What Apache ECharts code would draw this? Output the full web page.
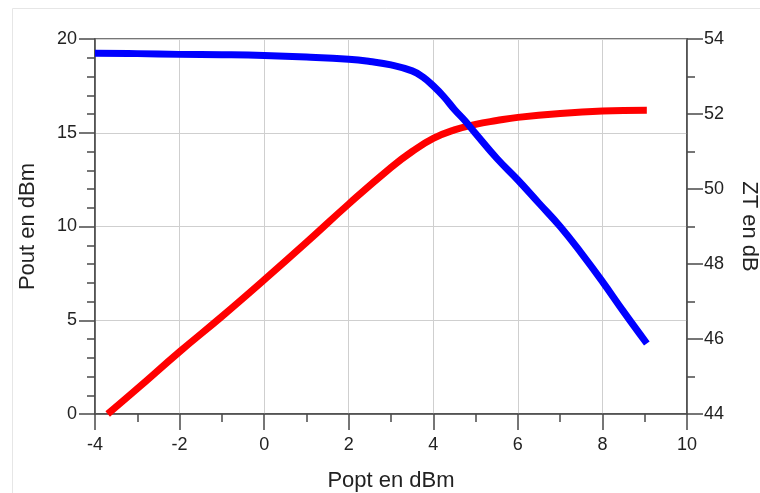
<!DOCTYPE html>
<html>
<head>
<meta charset="utf-8">
<script src="https://cdn.jsdelivr.net/npm/echarts@6/dist/echarts.min.js"></script>
<style>html,body{margin:0;padding:0;background:#fff;overflow:hidden}#c{width:760px;height:493px}</style>
</head>
<body>
<div id="c"></div>
<script>
// Tick settings
const xTicks = {min: -4, max: 10, interval: 2};
const leftTicks = {min: 0, max: 20, interval: 5};
const rightTicks = {min: 44, max: 54, interval: 2};

// Pout (left axis, red)
const poutX = [-3.7, -3, -2, -1, 0, 1, 2, 3, 3.5, 4, 4.5, 5, 5.5, 6, 7, 8, 9.05];
const poutY = [0, 1.35, 3.32, 5.2, 7.15, 9.15, 11.2, 13.15, 14.0, 14.7, 15.15, 15.45, 15.65, 15.82, 16.03, 16.16, 16.2];

// ZT (right axis, blue)
const ztX = [-4, -3, -2, -1, 0, 1, 2, 2.5, 3, 3.5, 3.75, 4, 4.25, 4.5, 4.75, 5, 5.5, 6, 6.5, 7, 7.5, 8, 8.5, 9.05];
const ztY = [53.62, 53.61, 53.59, 53.58, 53.56, 53.52, 53.46, 53.40, 53.31, 53.15, 52.99, 52.75, 52.46, 52.12, 51.82, 51.48, 50.82, 50.24, 49.62, 49.0, 48.29, 47.53, 46.73, 45.88];

const xName = 'Popt en dBm';
const leftName = 'Pout en dBm';
const rightName = 'ZT en dB';

const axisColor = '#4a4a4a';
const font = 'Liberation Sans, Arial, sans-serif';
const labelStyle = {color: '#222', fontSize: 18, fontFamily: font};
const nameStyle = {color: '#222', fontSize: 22, fontFamily: font};

const chart = echarts.init(document.getElementById('c'), null, {renderer: 'canvas', width: 760, height: 493});
chart.setOption({
  animation: false,
  backgroundColor: '#fff',
  graphic: [{
    type: 'rect', silent: true, z: -10,
    shape: {x: 12.5, y: 8.5, width: 800, height: 500},
    style: {fill: 'none', stroke: '#e6e6e6', lineWidth: 1}
  }],
  grid: {
    left: 95, right: 73, top: 39, bottom: 79,
    containLabel: false, outerBoundsMode: 'none',
    show: true, borderColor: axisColor, borderWidth: 1.5, backgroundColor: 'transparent'
  },
  xAxis: {
    type: 'value', min: xTicks.min, max: xTicks.max, interval: xTicks.interval,
    name: xName, nameLocation: 'middle', nameGap: 56, nameTextStyle: nameStyle,
    axisLine: {show: true, onZero: false, lineStyle: {color: axisColor, width: 1.5}},
    axisTick: {show: true, inside: false, length: 16, lineStyle: {color: axisColor, width: 1.5}},
    minorTick: {show: true, splitNumber: 2, length: 8, lineStyle: {color: axisColor, width: 1.5}},
    axisLabel: Object.assign({margin: 22}, labelStyle),
    splitLine: {show: true, lineStyle: {color: '#cfcfcf', width: 1}}
  },
  yAxis: [{
    type: 'value', position: 'left', min: leftTicks.min, max: leftTicks.max, interval: leftTicks.interval,
    name: leftName, nameLocation: 'middle', nameRotate: 90, nameGap: 56, nameTextStyle: nameStyle,
    axisLine: {show: true, onZero: false, lineStyle: {color: axisColor, width: 1.5}},
    axisTick: {show: true, length: 16, lineStyle: {color: axisColor, width: 1.5}},
    minorTick: {show: true, splitNumber: 5, length: 8, lineStyle: {color: axisColor, width: 1.5}},
    axisLabel: Object.assign({margin: 18}, labelStyle),
    splitLine: {show: true, lineStyle: {color: '#cfcfcf', width: 1}}
  }, {
    type: 'value', position: 'right', min: rightTicks.min, max: rightTicks.max, interval: rightTicks.interval,
    name: rightName, nameLocation: 'middle', nameRotate: -90, nameGap: 51, nameTextStyle: nameStyle,
    axisLine: {show: true, onZero: false, lineStyle: {color: axisColor, width: 1.5}},
    axisTick: {show: true, length: 16, lineStyle: {color: axisColor, width: 1.5}},
    minorTick: {show: true, splitNumber: 2, length: 8, lineStyle: {color: axisColor, width: 1.5}},
    axisLabel: Object.assign({margin: 17}, labelStyle),
    splitLine: {show: false}
  }],
  series: [{
    type: 'line', name: leftName, yAxisIndex: 0,
    data: poutX.map((x, i) => [x, poutY[i]]),
    showSymbol: false, smooth: 0.45, clip: true,
    lineStyle: {color: '#ff0000', width: 7, cap: 'butt'}
  }, {
    type: 'line', name: rightName, yAxisIndex: 1,
    data: ztX.map((x, i) => [x, ztY[i]]),
    showSymbol: false, smooth: 0.45, clip: true,
    lineStyle: {color: '#0000ff', width: 7, cap: 'butt'}
  }]
});
</script>
</body>
</html>
